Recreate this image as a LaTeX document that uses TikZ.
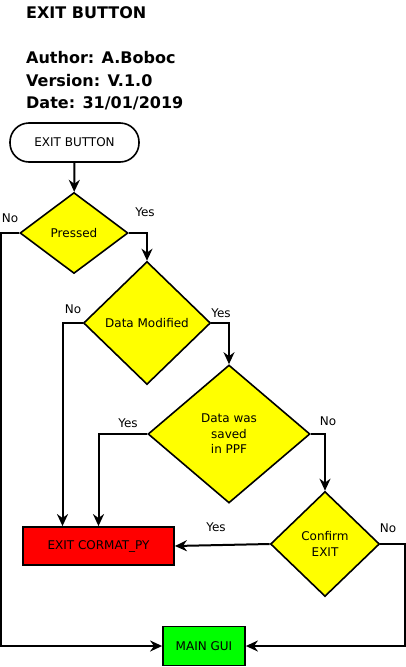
\documentclass[tikz,border=0pt]{standalone}
\usepackage{fontspec}
\setmainfont{DejaVu Sans}
\usepackage{xcolor}
\usetikzlibrary{arrows.meta,positioning,shapes.geometric}
\definecolor{yelx}{HTML}{FFFF00}
\definecolor{redx}{HTML}{FF0000}
\definecolor{grnx}{HTML}{00FF00}
\tikzset{
  tm/.style={draw,line width=1.6pt,rounded corners=19pt,minimum width=129pt,minimum height=39pt,inner sep=0pt},
  dc/.style={diamond,draw,line width=1.6pt,fill=yelx,aspect=1,inner sep=0pt,align=center},
  bx/.style={draw,line width=1.8pt,minimum height=38pt,inner sep=0pt},
  ar/.style={-{Stealth[length=12pt,width=11pt]},line width=2pt},
  hd/.style={anchor=base west,inner sep=0pt,font=\fontsize{16}{18}\bfseries\selectfont}
}
\begin{document}
\begin{tikzpicture}[x=1pt,y=-1pt,font=\fontsize{12}{15.5}\selectfont]
\useasboundingbox (0,0) rectangle (406,667);
\node[hd] (t0) at (26,18) {EXIT BUTTON};
\node[hd] (t1) at (26,63) {Author: A.Boboc};
\node[hd] (t2) at (26,86) {Version: V.1.0};
\node[hd] (t3) at (26,108) {Date: 31/01/2019};
\node[tm] (st) at (74.5,142.5) {EXIT BUTTON};
\node[dc,minimum width=108pt,minimum height=81pt] (pr) at (74,233) {Pressed};
\node[dc,minimum width=127pt,minimum height=123pt] (dm) at (147,323) {Data Modified};
\node[dc,minimum width=162pt,minimum height=138pt] (ds) at (229,434) {Data was\\saved\\in PPF};
\node[dc,minimum width=109pt,minimum height=105pt] (ce) at (325,544) {Confirm\\EXIT};
\node[bx,fill=redx,minimum width=151pt] (ex) at (98.5,546) {EXIT CORMAT\_PY};
\node[bx,fill=grnx,minimum width=82pt,minimum height=39pt] (mg) at (204,646) {MAIN GUI};
% yes / no labels
\foreach \n/\x/\y/\t in {a/10/218/No,b/145/212/Yes,c/73/309/No,d/221/313/Yes,e/128/423/Yes,f/328/421/No,g/216/527/Yes,h/388/528/No}{\node (l\n) at (\x,\y) {\t};}
\draw[ar] (st)--(pr);
\foreach \p/\q in {pr/dm,dm/ds,ds/ce}{\draw[ar] (\p.east) -| (\q.north);}
\draw[ar] (dm.west) -| ([xshift=-36pt]ex.north);
\draw[ar] (ds.west) -| (ex.north);
\draw[ar] (ce.west) -- (ex.east);
\draw[ar] (pr.west) -- ++(-18,0) |- (mg.west);
\draw[ar] (ce.east) -- ++(25,0) |- (mg.east);
\end{tikzpicture}
\end{document}
